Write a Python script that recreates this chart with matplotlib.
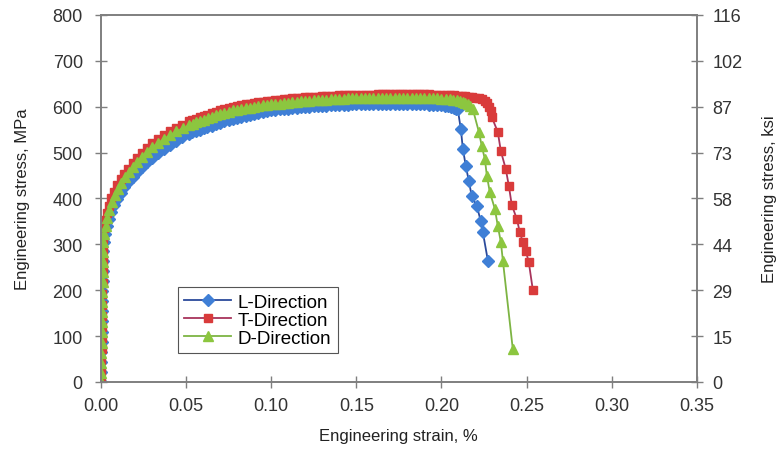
import matplotlib
matplotlib.use("Agg")
import matplotlib.pyplot as plt

plt.rcParams["font.family"] = ["Liberation Sans", "DejaVu Sans"]

# L-Direction (blue diamonds)
l_strain = [0.0000, 0.0001, 0.0002, 0.0003, 0.0004, 0.0005, 0.0006, 0.0007, 0.0008, 0.0009,
            0.0010, 0.0011, 0.0012, 0.0013,
            0.0018, 0.0026, 0.0036, 0.0048, 0.0062, 0.0078, 0.0096, 0.0116, 0.0138, 0.0161,
            0.0186, 0.0212, 0.0240, 0.0270, 0.0301, 0.0334, 0.0368, 0.0403, 0.0440, 0.0478,
            0.0518, 0.0538, 0.0558, 0.0580, 0.0603, 0.0626, 0.065, 0.0675, 0.070, 0.0725,
            0.075, 0.0775, 0.080, 0.0825, 0.085, 0.0875, 0.090, 0.0925, 0.095, 0.0975,
            0.100, 0.1025, 0.105, 0.1075, 0.110, 0.1125, 0.115, 0.1175, 0.120, 0.1225,
            0.125, 0.1275, 0.130, 0.1325, 0.135, 0.1375, 0.140, 0.1425, 0.145, 0.1475,
            0.150, 0.1525, 0.155, 0.1575, 0.160, 0.1625, 0.165, 0.1675, 0.170, 0.1725,
            0.175, 0.1775, 0.180, 0.1825, 0.185, 0.1875, 0.190, 0.1925, 0.195, 0.1975,
            0.200, 0.202, 0.204, 0.2056, 0.2072, 0.2085, 0.2096,
            0.2114, 0.2126, 0.2143, 0.2161, 0.2178, 0.2208, 0.2231, 0.2243, 0.2273]
l_stress = [0, 22, 44, 66, 88, 110, 132, 154, 176, 198,
            220, 242, 264, 286,
            306, 323, 339, 355, 370, 385, 399, 412, 424, 435,
            446, 457, 468, 479, 489, 499, 508, 517, 525, 533,
            540, 544, 547, 550, 553, 556, 559, 562, 565, 568,
            571, 573, 576, 578, 580, 582, 584, 586, 588, 590,
            592, 593, 594, 595, 596, 597, 598, 599, 600, 600,
            601, 601, 602, 602, 603, 603, 604, 604, 604, 605,
            605, 605, 605, 606, 606, 606, 606, 606, 606, 606,
            606, 606, 606, 606, 605, 605, 605, 604, 604, 603,
            603, 602, 601, 600, 598, 596, 594,
            551, 508, 471, 438, 405, 383, 351, 327, 264]

# T-Direction (red squares)
t_strain = [0.0000, 0.0001, 0.0002, 0.0004, 0.0005, 0.0006, 0.0007, 0.0008, 0.0009, 0.0010,
            0.0011, 0.0013, 0.0014, 0.0015,
            0.0018, 0.0026, 0.0036, 0.0048, 0.0062, 0.0078, 0.0096, 0.0116, 0.0138, 0.0161,
            0.0186, 0.0212, 0.0240, 0.0270, 0.0301, 0.0334, 0.0368, 0.0403, 0.0440, 0.0478,
            0.0518, 0.0538, 0.0558, 0.0580, 0.0603, 0.0626, 0.065, 0.0675, 0.070, 0.0725,
            0.075, 0.0775, 0.080, 0.0825, 0.085, 0.0875, 0.090, 0.0925, 0.095, 0.0975,
            0.100, 0.1025, 0.105, 0.1075, 0.110, 0.1125, 0.115, 0.1175, 0.120, 0.1225,
            0.125, 0.1275, 0.130, 0.1325, 0.135, 0.1375, 0.140, 0.1425, 0.145, 0.1475,
            0.150, 0.1525, 0.155, 0.1575, 0.160, 0.1625, 0.165, 0.1675, 0.170, 0.1725,
            0.175, 0.1775, 0.180, 0.1825, 0.185, 0.1875, 0.190, 0.1925, 0.195, 0.1975,
            0.200, 0.2025, 0.205, 0.2075, 0.210, 0.212, 0.214, 0.216, 0.218, 0.220,
            0.222, 0.224, 0.2255, 0.227, 0.2280, 0.2290,
            0.2296, 0.2331, 0.2349, 0.2378, 0.2396, 0.2413, 0.2443, 0.2460, 0.2478, 0.2496,
            0.2513, 0.2537]
t_stress = [0, 24, 48, 72, 96, 120, 144, 168, 192, 216,
            240, 264, 288, 312,
            335, 352, 368, 384, 400, 415, 429, 442, 454, 465,
            477, 488, 499, 510, 520, 529, 538, 546, 554, 561,
            568, 571, 574, 577, 580, 583, 586, 589, 592, 595,
            597, 599, 601, 603, 605, 607, 609, 610, 611, 612,
            613, 614, 615, 616, 617, 618, 619, 620, 621, 621,
            622, 622, 623, 623, 624, 624, 625, 625, 625, 626,
            626, 626, 626, 626, 626, 627, 627, 627, 627, 627,
            627, 627, 627, 627, 627, 627, 627, 627, 626, 626,
            626, 626, 625, 625, 624, 624, 623, 622, 621, 620,
            618, 616, 613, 608, 600, 590,
            577, 545, 503, 464, 427, 386, 355, 327, 305, 285,
            261, 200]

# D-Direction (green triangles)
d_strain = [0.0000, 0.0001, 0.0002, 0.0003, 0.0004, 0.0005, 0.0006, 0.0007, 0.0008, 0.0009,
            0.0010, 0.0011, 0.0012, 0.0013, 0.0015,
            0.0020, 0.0028, 0.0038, 0.0050, 0.0064, 0.0080, 0.0098, 0.0118, 0.0140, 0.0163,
            0.0188, 0.0214, 0.0242, 0.0272, 0.0303, 0.0336, 0.0370, 0.0405, 0.0442, 0.0480,
            0.0520, 0.0540, 0.0560, 0.0582, 0.0605, 0.0628, 0.065, 0.0675, 0.070, 0.0725,
            0.075, 0.0775, 0.080, 0.0825, 0.085, 0.0875, 0.090, 0.0925, 0.095, 0.0975,
            0.100, 0.1025, 0.105, 0.1075, 0.110, 0.1125, 0.115, 0.1175, 0.120, 0.1225,
            0.125, 0.1275, 0.130, 0.1325, 0.135, 0.1375, 0.140, 0.1425, 0.145, 0.1475,
            0.150, 0.1525, 0.155, 0.1575, 0.160, 0.1625, 0.165, 0.1675, 0.170, 0.1725,
            0.175, 0.1775, 0.180, 0.1825, 0.185, 0.1875, 0.190, 0.1925, 0.195, 0.1975,
            0.200, 0.2025, 0.205, 0.207, 0.209, 0.211, 0.2125, 0.214, 0.2155, 0.217, 0.2184,
            0.2220, 0.2237, 0.2255, 0.2267, 0.2284, 0.2314, 0.2331, 0.2349, 0.2361, 0.2419]
d_stress = [0, 20, 42, 64, 86, 108, 130, 152, 174, 196,
            218, 240, 262, 284, 305,
            322, 340, 358, 375, 392, 408, 421, 434, 446, 457,
            468, 480, 491, 502, 512, 521, 530, 538, 546, 553,
            560, 563, 566, 569, 572, 575, 578, 581, 584, 587,
            589, 592, 593, 595, 597, 598, 600, 601, 603, 604,
            605, 606, 607, 608, 609, 610, 611, 612, 613, 613,
            614, 614, 615, 615, 616, 616, 617, 617, 618, 618,
            618, 618, 619, 619, 619, 619, 620, 620, 620, 620,
            620, 620, 620, 620, 619, 619, 619, 618, 618, 618,
            617, 617, 616, 615, 614, 613, 611, 608, 605, 601, 595,
            545, 514, 486, 449, 414, 377, 340, 305, 264, 72]

mpa_ticks = [0, 100, 200, 300, 400, 500, 600, 700, 800]
ksi_labels = ["0", "15", "29", "44", "58", "73", "87", "102", "116"]
strain_ticks = [0.00, 0.05, 0.10, 0.15, 0.20, 0.25, 0.30, 0.35]

fig = plt.figure(figsize=(7.76, 4.52), dpi=100)
ax = fig.add_axes([0.130, 0.1527, 0.768, 0.812])

ax.plot(l_strain, l_stress, color="#2b4a9b", lw=1.3, marker="D", ms=6,
        mfc="#3f7fd6", mec="#3f7fd6", label="L-Direction")
ax.plot(t_strain, t_stress, color="#a8345c", lw=1.3, marker="s", ms=6,
        mfc="#d93b3b", mec="#d93b3b", label="T-Direction")
ax.plot(d_strain, d_stress, color="#7db443", lw=1.3, marker="^", ms=7,
        mfc="#8cc63f", mec="#8cc63f", label="D-Direction")

ax.set_xlim(0, 0.35)
ax.set_ylim(0, 800)
ax.set_xticks(strain_ticks)
ax.set_xticklabels([f"{v:.2f}" for v in strain_ticks])
ax.set_yticks(mpa_ticks)

ax2 = ax.twinx()
ax2.set_ylim(0, 800)
ax2.set_yticks(mpa_ticks)
ax2.set_yticklabels(ksi_labels)

for a in (ax, ax2):
    for s in a.spines.values():
        s.set_color("#7f7f7f")
        s.set_linewidth(1.2)
    a.tick_params(direction="inout", length=8, width=1, color="#7f7f7f",
                  labelsize=13, labelcolor="#333333")
ax.tick_params(axis="y", pad=9)
ax.tick_params(axis="x", pad=7)
ax2.tick_params(axis="y", pad=7)

ax.set_xlabel("Engineering strain, %", fontsize=12, color="#222222", labelpad=10)
ax.set_ylabel("Engineering stress, MPa", fontsize=12, color="#222222", labelpad=16)
ax2.set_ylabel("Engineering stress, ksi", fontsize=12, color="#222222", labelpad=14)

leg = ax.legend(loc="upper left", bbox_to_anchor=(0.129, 0.259), fontsize=13.5,
                frameon=True, fancybox=False, framealpha=1, edgecolor="#555555",
                handlelength=2.5, handletextpad=0.35, labelspacing=0.05,
                borderpad=0.35, borderaxespad=0)
leg.get_frame().set_linewidth(0.8)

fig.savefig("out.png", dpi=100)
